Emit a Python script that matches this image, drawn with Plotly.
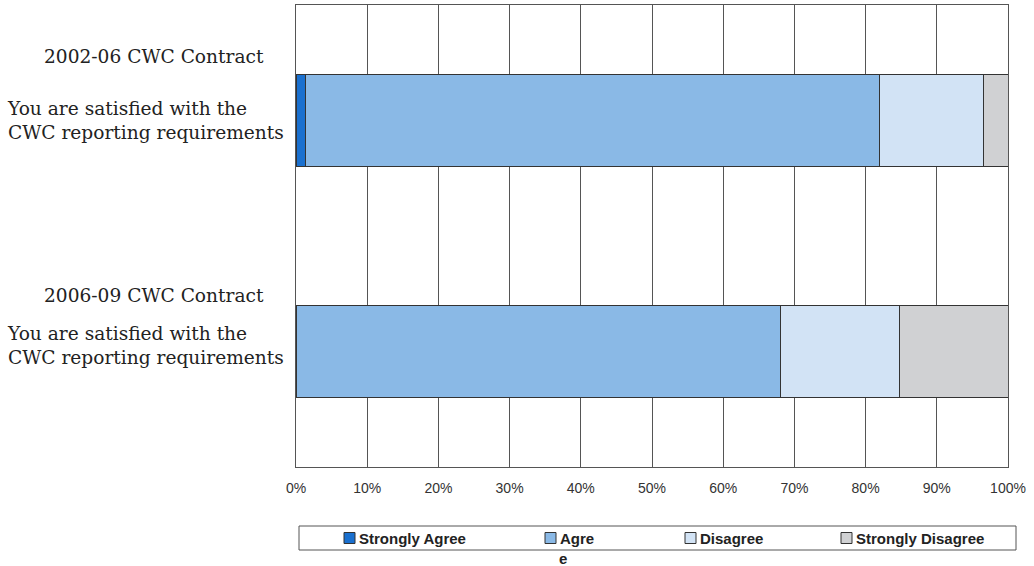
import plotly.graph_objects as go

# Survey data: share of responses per contract period (percent)
categories = ["2002-06 CWC Contract", "2006-09 CWC Contract"]
question = "You are satisfied with the<br>CWC reporting requirements"
series_names = ["Strongly Agree", "Agree", "Disagree", "Strongly Disagree"]
legend_labels = ["Strongly Agree", "Agre", "Disagree", "Strongly Disagree"]
strongly_agree = [1.3, 0.0]
agree = [80.7, 68.1]
disagree = [14.5, 16.7]
strongly_disagree = [3.5, 15.2]
tick_values = [0, 10, 20, 30, 40, 50, 60, 70, 80, 90, 100]
tick_labels = ["0%", "10%", "20%", "30%", "40%", "50%", "60%", "70%", "80%", "90%", "100%"]

colors = ["#1a70cf", "#8ab9e6", "#d2e3f5", "#d0d1d3"]
values = [strongly_agree, agree, disagree, strongly_disagree]

W, H = 1034, 566
L, R, T, B = 296, 26, 5, 99
pw, ph = W - L - R, H - T - B


def px_x(x):
    return (x - L) / pw


def px_y(y):
    return (H - B - y) / ph


fig = go.Figure()
for name, vals, col in zip(series_names, values, colors):
    fig.add_trace(go.Bar(
        y=categories, x=vals, name=name, orientation="h", width=0.4,
        marker=dict(color=col, line=dict(color="#333333", width=1)),
        showlegend=False,
        hovertemplate=name + ": %{x:.1f}%<extra></extra>",
    ))

annotations = []
shapes = []
serif = dict(family="DejaVu Serif", size=18.6, color="#222222")
title_shift = [64, 56]
question_shift = [0, 6]
for cat, ts, qs in zip(categories, title_shift, question_shift):
    annotations.append(dict(
        x=px_x(154), xref="paper", y=cat, yref="y", yshift=ts,
        text=cat, showarrow=False, xanchor="center", yanchor="middle",
        font=serif,
    ))
    annotations.append(dict(
        x=px_x(5), xref="paper", y=cat, yref="y", yshift=qs,
        text=question, showarrow=False, xanchor="left", yanchor="middle",
        align="left", font=serif,
    ))

# Legend box along the bottom
shapes.append(dict(
    type="rect", xref="paper", yref="paper",
    x0=px_x(299), x1=px_x(1016), y0=px_y(526), y1=px_y(550),
    line=dict(color="#555555", width=1), fillcolor="white", layer="below",
))
swatch_x = [344, 545, 685, 841]
ly = 538
for sx, lab, col in zip(swatch_x, legend_labels, colors):
    shapes.append(dict(
        type="rect", xref="paper", yref="paper",
        x0=px_x(sx), x1=px_x(sx + 11), y0=px_y(ly - 5.5), y1=px_y(ly + 5.5),
        line=dict(color="#333333", width=1), fillcolor=col,
    ))
    annotations.append(dict(
        x=px_x(sx + 13), xref="paper", y=px_y(ly), yref="paper",
        text="<b>" + lab + "</b>", showarrow=False, xanchor="left",
        yanchor="middle", font=dict(family="Liberation Sans", size=15, color="#222222"),
    ))
annotations.append(dict(
    x=px_x(563), xref="paper", y=px_y(558), yref="paper",
    text="<b>e</b>", showarrow=False, xanchor="center", yanchor="middle",
    font=dict(family="Liberation Sans", size=15, color="#222222"),
))

fig.update_layout(
    width=W, height=H, barmode="stack",
    margin=dict(l=L, r=R, t=T, b=B),
    paper_bgcolor="white", plot_bgcolor="white",
    annotations=annotations, shapes=shapes,
    xaxis=dict(
        range=[0, 100], tickvals=tick_values, ticktext=tick_labels,
        showgrid=True, gridcolor="#555555", gridwidth=1,
        showline=True, linecolor="#555555", linewidth=1, mirror=True,
        zeroline=False, ticks="", ticklabelstandoff=8,
        tickfont=dict(family="Liberation Sans", size=14, color="#333333"),
    ),
    yaxis=dict(
        range=[1.5, -0.5], showticklabels=False, showgrid=False,
        showline=True, linecolor="#555555", linewidth=1, mirror=True,
        zeroline=False, ticks="",
    ),
)

fig.write_html("out.html")
